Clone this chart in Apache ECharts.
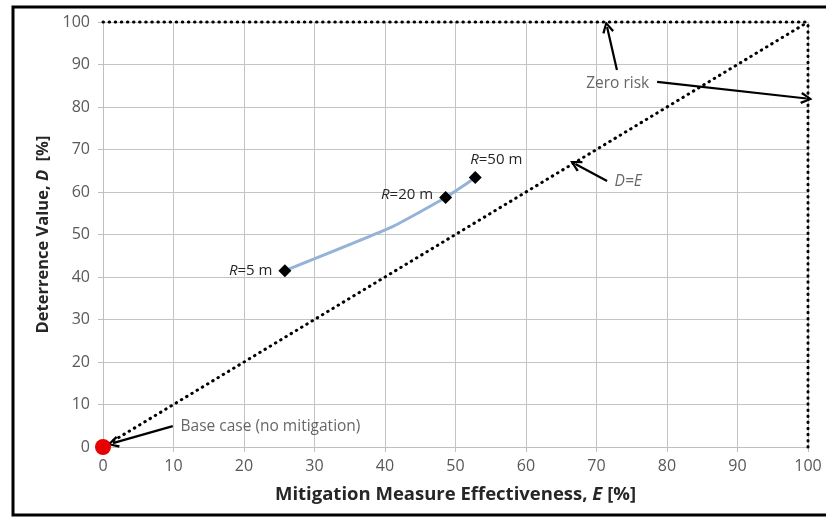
<!DOCTYPE html>
<html>
<head>
<meta charset="utf-8">
<script src="https://cdn.jsdelivr.net/npm/echarts@6/dist/echarts.min.js"></script>
<style>
  html, body { margin: 0; padding: 0; background: #fff; }
  #chart { width: 826px; height: 517px; }
</style>
</head>
<body>
<div id="chart"></div>
<script>
// 축 눈금
const axisTicks = [0, 10, 20, 30, 40, 50, 60, 70, 80, 90, 100];

// R 곡선 (E, D)
const curveE = [25.8, 41.0, 48.6, 51.6, 52.8];
const curveD = [41.5, 51.8, 58.7, 62.0, 63.4];

// 마커 지점
const markerE = [25.8, 48.6, 52.8];
const markerD = [41.5, 58.7, 63.4];
const markerNames = ['{i|R}=5 m', '{i|R}=20 m', '{i|R}=50 m'];

// 기준선 (D=E, 제로 리스크)
const diagE = [0, 100];
const diagD = [0, 100];
const topE = [0, 100];
const topD = [100, 100];
const rightE = [100, 100];
const rightD = [0, 100];

// 기본 케이스
const baseCase = [[0, 0]];

// 주석 화살표 (꼬리 -> 머리)
const arrowFrom = [[72.9, 88.7], [78.6, 85.9], [71.5, 62.6], [9.9, 4.9]];
const arrowTo   = [[71.5, 98.8], [99.8, 82.0], [67.0, 66.6], [1.4, 0.9]];

// 주석 텍스트
const noteText = ['Zero risk', '{i|D=E}', 'Base case (no mitigation)'];
const notePos  = [[73.0, 85.6], [74.5, 62.4], [11.0, 4.9]];

const FONT = 'Open Sans';
const chevron = 'path://M5,0 L10,8.5 L8.3,9.5 L5,3.2 L1.7,9.5 L0,8.5 Z';

function zip(a, b) {
	return a.map((v, i) => [v, b[i]]);
}

const myChart = echarts.init(document.getElementById('chart'));

const dots = { color: '#000', width: 3, type: [0.5, 5.6], cap: 'round' };

const option = {
	animation: false,
	textStyle: { fontFamily: FONT },
	grid: { left: 103, right: 18, top: 22, bottom: 70 },
	graphic: [{
		type: 'rect',
		shape: { x: 13, y: 7, width: 830, height: 508 },
		style: { fill: 'none', stroke: '#000', lineWidth: 3 },
		silent: true
	}],
	xAxis: {
		type: 'value', min: 0, max: 100, interval: 10,
		axisLine: { show: true, lineStyle: { color: '#bfbfbf' } },
		axisTick: { show: true, length: 5, lineStyle: { color: '#bfbfbf' } },
		axisLabel: { color: '#595959', fontSize: 16, margin: 11, fontFamily: FONT },
		splitLine: { lineStyle: { color: '#c4c4c4', width: 1 } },
		name: 'Mitigation Measure Effectiveness, {i|E} [%]',
		nameLocation: 'middle', nameGap: 38,
		nameTextStyle: {
			color: '#262626', fontSize: 18.5, fontWeight: 'bold', fontFamily: FONT,
			rich: { i: { fontStyle: 'italic', fontWeight: 'bold', fontSize: 18.5, color: '#262626', fontFamily: FONT } }
		}
	},
	yAxis: {
		type: 'value', min: 0, max: 100, interval: 10,
		axisLine: { show: true, lineStyle: { color: '#bfbfbf' } },
		axisTick: { show: true, length: 5, lineStyle: { color: '#bfbfbf' } },
		axisLabel: { color: '#595959', fontSize: 16, margin: 13, fontFamily: FONT },
		splitLine: { lineStyle: { color: '#c4c4c4', width: 1 } },
		name: 'Deterrence Value, {i|D}  [%]',
		nameLocation: 'middle', nameGap: 50, nameRotate: 90,
		nameTextStyle: {
			color: '#262626', fontSize: 16.5, fontWeight: 'bold', fontFamily: FONT,
			rich: { i: { fontStyle: 'italic', fontWeight: 'bold', fontSize: 16.5, color: '#262626', fontFamily: FONT } }
		}
	},
	series: [
		{
			name: 'D=E', type: 'line', data: zip(diagE, diagD),
			showSymbol: false, clip: false, lineStyle: dots, z: 3
		},
		{
			name: 'top', type: 'line', data: zip(topE, topD),
			showSymbol: false, clip: false, lineStyle: dots, z: 3
		},
		{
			name: 'right', type: 'line', data: zip(rightE, rightD),
			showSymbol: false, clip: false, lineStyle: dots, z: 3
		},
		{
			name: 'curve', type: 'line', data: zip(curveE, curveD),
			showSymbol: false, smooth: 0.15,
			lineStyle: { color: '#95b3d7', width: 3 }, z: 4
		},
		{
			name: 'markers', type: 'scatter', symbol: 'diamond', symbolSize: 13,
			itemStyle: { color: '#000', opacity: 1 }, z: 5,
			data: markerE.map((e, i) => ({
				value: [e, markerD[i]],
				name: markerNames[i],
				label: i == 2
					? { position: 'top', distance: 4, offset: [21, 0] }
					: { position: 'left', distance: 6, offset: [0, i == 1 ? -3 : 0] }
			})),
			label: {
				show: true, formatter: '{b}', color: '#262626', fontSize: 15, fontFamily: FONT,
				rich: { i: { fontStyle: 'italic', fontSize: 15, color: '#262626', fontFamily: FONT } }
			}
		},
		{
			name: 'base', type: 'scatter', data: baseCase, symbolSize: 16, clip: false,
			itemStyle: { color: '#e60000', opacity: 1 }, z: 6
		},
		{
			name: 'notes', type: 'scatter', symbolSize: 0, z: 7,
			data: notePos.map((p, i) => ({ value: p, name: noteText[i] })),
			label: {
				show: true, formatter: '{b}', color: '#404040', fontSize: 15.5, fontFamily: FONT,
				position: 'inside',
				rich: { i: { fontStyle: 'italic', fontSize: 15.5, color: '#404040', fontFamily: FONT } }
			},
			markLine: {
				silent: true,
				symbol: ['none', chevron],
				symbolSize: [12, 12],
				label: { show: false },
				lineStyle: { color: '#000', width: 2.2, type: 'solid' },
				data: arrowFrom.map((f, i) => [{ coord: f }, { coord: arrowTo[i] }])
			}
		}
	]
};

// 기본 케이스 텍스트는 왼쪽 정렬
option.series[6].data[2].label = { position: 'right', distance: 0 };

myChart.setOption(option);
</script>
</body>
</html>
